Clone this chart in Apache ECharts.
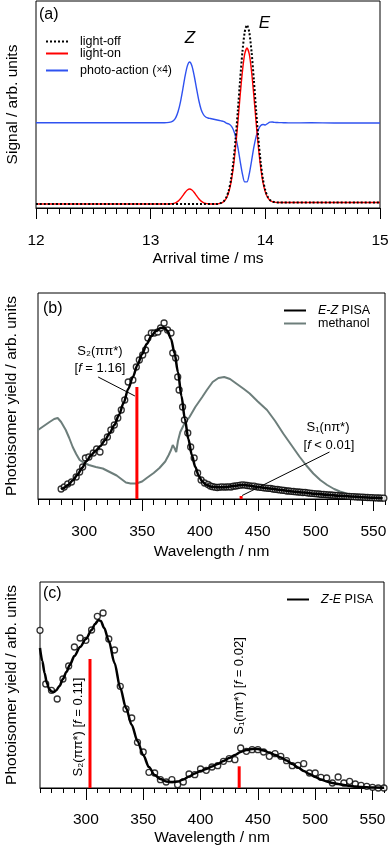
<!DOCTYPE html>
<html>
<head>
<meta charset="utf-8">
<title>PISA spectra</title>
<script src="https://cdn.jsdelivr.net/npm/echarts@6.0.0/dist/echarts.min.js"></script>
<style>
  html, body { margin: 0; padding: 0; background: #fff; }
  #chart { width: 390px; height: 849px; }
</style>
</head>
<body>
<div id="chart"></div>
<script>
// (a) arrival time distributions, signal in arb. units
const arrivalTime = [12.00, 12.50, 13.00, 13.10, 13.12, 13.14, 13.16, 13.18, 13.20, 13.22, 13.24, 13.26, 13.28, 13.30, 13.32, 13.34, 13.36, 13.38, 13.40, 13.42, 13.44, 13.46, 13.48, 13.50, 13.52, 13.54, 13.56, 13.58, 13.60, 13.62, 13.64, 13.66, 13.68, 13.70, 13.72, 13.74, 13.76, 13.78, 13.80, 13.82, 13.84, 13.86, 13.88, 13.90, 13.92, 13.94, 13.96, 13.98, 14.00, 14.02, 14.04, 14.06, 14.08, 14.10, 14.12, 14.16, 14.20, 14.40, 14.60, 14.80, 15.00];
const lightOff = [4, 4, 4, 4, 4, 4, 4, 4, 4, 4, 4, 4, 4, 4, 4, 4, 4, 4, 4, 4, 4, 4, 4, 4, 4, 4, 4, 4, 4.5, 5.3, 7, 10.6, 17.1, 28.2, 45.2, 68.4, 97.1, 128, 156, 175.8, 183, 175.8, 156, 128, 97.1, 68.4, 45.2, 28.2, 17.6, 11.4, 8, 6.5, 5.9, 5.6, 5.5, 5.5, 5.6, 5.5, 5.6, 5.5, 5.6];
const lightOn = [4, 4, 4, 4, 4, 4, 4, 4.2, 4.6, 5.4, 6.9, 9.2, 12.3, 15.5, 18, 19, 18, 15.5, 12.3, 9.2, 6.9, 5.4, 4.6, 4.2, 4, 4, 4, 4, 4.5, 5.1, 6.7, 9.8, 15.4, 25.1, 39.9, 60.2, 85.1, 112.1, 136.4, 153.8, 160, 153.8, 136.4, 112.1, 85.1, 60.2, 39.9, 25.1, 15.9, 10.6, 7.7, 6.3, 5.9, 5.6, 5.5, 5.5, 5.5, 5.6, 5.5, 5.6, 5.5];
const photoAction = [85.3, 85.2, 85.3, 85.3, 85.3, 85.4, 85.6, 86.2, 87.4, 90.6, 96.7, 106.2, 118.7, 131.8, 142.1, 146, 142, 132, 119.5, 107.5, 98.5, 93.5, 91, 90, 89.5, 89, 88.5, 88, 87.5, 87, 86.3, 84.9, 84.1, 82.4, 78.6, 71.6, 60.8, 47.2, 34.2, 26.1, 26.1, 34.2, 47.2, 60.8, 71.6, 78.6, 82.4, 83.5, 83, 84.5, 85.8, 86, 85.6, 85.5, 85.4, 85.3, 85.1, 85.2, 85, 85.1, 85];

// (b) E-Z photoisomer yield vs wavelength
const ezWavelength = [280, 282.7, 285.7, 289, 293, 296, 298.6, 301, 304, 307.8, 310.7, 313.6, 317, 320, 323, 326, 329, 332, 335, 338, 342, 345, 347.6, 350.5, 353, 355, 358, 360.6, 363.6, 366, 369, 372, 375, 376.5, 379, 380.8, 382, 385, 386.6, 389.5, 392, 395, 398, 401, 404, 407,
  409, 411, 413, 415, 417, 419, 421, 423, 425, 427, 429, 431, 433, 435, 437, 439, 441, 443, 445, 447, 449, 451, 453, 455, 457, 459, 461, 463, 465, 467, 469, 471, 473, 475, 477, 479, 481, 483, 485, 487, 489, 491, 493, 495, 497, 499, 501, 503, 505, 507, 509, 511, 513, 515, 517, 519, 521, 523, 525, 527, 529, 531, 533, 535, 537, 539, 541, 543, 545, 547, 549, 551, 553, 555, 557, 559];
const ezYield = [10, 12, 15, 17, 22, 27, 32, 41, 42, 46, 50, 47, 57, 62, 69, 74, 81, 89, 99, 117, 119, 132, 139, 144, 149, 161, 166, 166, 167, 171, 176, 169, 166, 146, 141, 122, 109, 92, 79, 66, 52, 41, 26, 19, 16, 14.5,
  13, 12.3, 11.8, 11.5, 11.8, 12.1, 11.9, 12, 12.2, 12.0, 12.8, 13, 13.4, 13.8, 14.2, 13.9, 13.5, 13.2, 12.8, 12.9, 12.2, 11.8, 11.6, 11.2, 10.9, 10.7, 10.6, 10, 9.7, 9.5, 9.1, 8.8, 8.6, 8.0, 8, 7.7, 7.5, 7.2, 7, 6.8, 6.5, 6.6, 6.1, 5.8, 5.6, 5.4, 5.2, 5, 4.6, 4.6, 4.4, 4.2, 4, 3.8, 3.6, 3.6, 3.2, 3, 2.9, 2.7, 2.6, 2.4, 2.3, 2.1, 2, 1.9, 1.8, 1.6, 1.5, 1.4, 1.3, 1.2, 1.1, 1, 0.9, 0.8];
const ezFitWavelength = [280, 282, 286, 290, 294, 298, 302, 306, 310, 314, 318, 322, 326, 330, 334, 338, 342, 346, 350, 354, 358, 362, 366, 369, 372, 375, 378, 381, 384, 387, 390, 393, 396, 399, 402, 405, 410, 415, 420, 425, 430, 435, 438, 442, 450, 460, 470, 480, 490, 500, 510, 520, 530, 540, 550, 558];
const ezFit = [9.7, 11, 14, 18.5, 24, 31, 38, 44, 48.5, 53, 59, 66, 74, 84, 96, 110, 122, 134, 145, 155, 163, 168, 171, 171.5, 168, 160, 146, 127, 103, 80, 60, 44, 32, 23, 17.5, 14.5, 12.3, 11.7, 11.8, 12.3, 13, 13.9, 14, 13.4, 12, 10.5, 9, 7.6, 6.4, 5.3, 4.3, 3.3, 2.5, 1.8, 1.2, 0.8];
const methanolWavelength = [260, 265, 270, 274, 277, 280, 284, 287, 290, 293, 296, 300, 304, 310, 316, 322, 328, 332, 336, 340, 345, 350, 354, 360, 365, 370, 373, 375, 376.5, 378, 379.5, 381, 383, 386, 391, 396, 402, 406, 411, 416, 421, 426, 432, 438, 443, 450, 458, 465, 472, 479, 486, 492, 498, 504, 510, 516, 521, 528, 535, 545, 552, 560];
const methanolAbs = [69, 73, 77, 80, 81, 77, 69, 61, 52, 45, 39, 36, 34, 32, 30.5, 27, 23.5, 20, 16.5, 15.5, 15.5, 17.5, 21, 26, 31, 37.5, 44, 49, 54, 51, 47, 58, 67, 74, 82, 92, 102, 109, 117, 121, 122, 120, 115, 110, 105.5, 97.5, 89, 78, 65.5, 54, 42.5, 33.5, 25.5, 19, 14, 10, 7.5, 5, 3, 2.5, 2.3, 2];
const ezTransitionWavelength = [345.5, 435.6];
const ezTransitionStrength = [112, 3];
const ezS2LeaderX = [312, 343.8];
const ezS2LeaderY = [122, 103];
const ezS1LeaderX = [512, 436.5];
const ezS1LeaderY = [47, 3.5];

// (c) Z-E photoisomer yield vs wavelength
const zeWavelength = [260, 265, 270, 275, 280, 285, 290, 295, 300, 305, 310, 315, 320, 325, 330, 335, 340, 345, 350, 355, 360, 365, 370, 375, 380, 385, 390, 395, 400, 405, 410, 415, 420, 425, 430, 435, 440, 445, 450, 455, 460, 465, 470, 475, 480, 485, 490, 495, 500, 505, 510, 515, 520, 525, 530, 535, 540, 545, 550, 555, 560];
const zeYield = [157.7, 104, 97.7, 89, 109, 122, 141, 150, 147.7, 158, 171.7, 175, 149, 138, 101.7, 79, 70, 45.7, 36, 15.7, 15, 8.3, 6, 8.3, 3.3, 6, 14, 13.3, 19, 17.7, 21, 22.3, 26.7, 29.3, 28.3, 40, 36.7, 38.3, 38.3, 36, 31.7, 34.3, 31.7, 27.3, 22.3, 22.7, 24.3, 15, 15, 10.7, 10, 5, 11, 5, 6.7, 4, 2.7, 1.7, 0.7, 0, 0];
const zeFitWavelength = [260, 262, 264, 266, 268, 270, 272, 274, 277, 280, 283, 286, 290, 295, 300, 305, 308, 311, 313, 316, 320, 325, 330, 335, 340, 345, 350, 355, 360, 365, 370, 375, 380, 385, 390, 395, 400, 405, 410, 415, 420, 425, 430, 435, 440, 445, 450, 455, 460, 465, 470, 475, 480, 485, 490, 495, 500, 505, 510, 515, 520, 525, 530, 535, 540, 550, 560];
const zeFit = [140, 127, 115, 105, 99, 96.5, 96, 97.5, 102, 109, 116, 123, 132, 141, 149, 158, 164, 168, 167, 160, 147, 125, 100, 80, 63, 47, 33, 21, 13, 9, 6.5, 6, 6.5, 8.5, 11.5, 14.5, 17, 19, 21.5, 24, 27, 30, 33, 36, 38, 39, 39, 37.5, 35.5, 33, 30.5, 27.5, 24, 20.5, 17, 14, 11, 8.5, 6.5, 5, 4, 3, 2.2, 1.5, 1, 0.5, 0.3];
const zeTransitionWavelength = [303.6, 433.7];
const zeTransitionStrength = [129, 21.7];

const font = "'Liberation Sans', Arial, sans-serif";
const black = '#000';
const red = '#ff0000';

function pairs(xs, ys) {
  return xs.map(function (x, i) { return [x, ys[i]]; });
}

// panel boxes in px; the extra grids only carry the 50 nm major ticks + labels
const boxA = { left: 36, top: 1, width: 344, height: 207 };
const boxB = { left: 38, top: 293, width: 347, height: 206 };
const boxC = { left: 40, top: 582, width: 344, height: 206 };
function majorBox(box) {
  const k = box.width / 300;
  return { left: box.left + 40 * k, top: box.top, width: 250 * k, height: box.height, show: false, outerBoundsMode: 'none' };
}
function panelGrid(box) {
  return Object.assign({ show: true, borderColor: black, borderWidth: 1, backgroundColor: 'transparent', outerBoundsMode: 'none' }, box);
}

const titleText = { color: black, fontFamily: font, fontSize: 15.5 };

function waveAxis(gridIndex, tickLen, nameGap) {
  return {
    gridIndex: gridIndex, type: 'value', min: 260, max: 560, interval: 10,
    axisLine: { lineStyle: { color: black, width: 1 } },
    axisTick: { length: tickLen, lineStyle: { color: black } },
    axisLabel: { show: false },
    splitLine: { show: false },
    name: 'Wavelength / nm', nameLocation: 'middle', nameGap: nameGap, nameMoveOverlap: false,
    nameTextStyle: titleText
  };
}
function majorAxis(gridIndex, margin) {
  return {
    gridIndex: gridIndex, type: 'value', min: 300, max: 550, interval: 50,
    axisLine: { show: false },
    axisTick: { length: 12, lineStyle: { color: black } },
    axisLabel: { margin: margin, color: black, fontFamily: font, fontSize: 15.5 },
    splitLine: { show: false }
  };
}
function yieldAxis(gridIndex, max, name, nameGap) {
  return {
    gridIndex: gridIndex, type: 'value', min: 0, max: max,
    axisLine: { show: false }, axisTick: { show: false }, axisLabel: { show: false }, splitLine: { show: false },
    name: name, nameLocation: 'middle', nameGap: nameGap, nameMoveOverlap: false, nameTextStyle: titleText
  };
}

const legendRich = {
  gap: { width: 7, fontFamily: font, fontSize: 12.5 },
  i: { fontFamily: font, fontSize: 12.5, fontStyle: 'italic', color: black },
  s: { fontFamily: font, fontSize: 10, color: black }
};
function legendAt(name, left, top, formatter) {
  return {
    data: [name], left: left, top: top, orient: 'vertical', padding: 0,
    itemWidth: 22, itemHeight: 14, selectedMode: false,
    itemStyle: { opacity: 0 },
    textStyle: { color: black, fontFamily: font, fontSize: 12.5, rich: legendRich },
    formatter: function (n) { return '{gap| }' + (formatter ? formatter(n) : n); }
  };
}

function note(x, y, text, size, opts) {
  opts = opts || {};
  return {
    type: 'text', x: x, y: y, rotation: opts.rotation || 0, silent: true, z: 100,
    style: {
      text: text, fill: black, fontFamily: font, fontSize: size,
      fontStyle: opts.italic ? 'italic' : 'normal',
      align: opts.align || 'center', verticalAlign: 'middle',
      rich: { i: { fill: black, fontFamily: font, fontSize: size, fontStyle: 'italic' } }
    }
  };
}

function curve(name, xAxisIndex, xs, ys, color, width, extra) {
  return Object.assign({
    name: name, type: 'line', xAxisIndex: xAxisIndex, yAxisIndex: xAxisIndex,
    data: pairs(xs, ys), symbol: 'none', silent: true,
    itemStyle: { color: color }, lineStyle: { color: color, width: width }
  }, extra || {});
}
function dots(name, xAxisIndex, xs, ys) {
  return {
    name: name, type: 'scatter', xAxisIndex: xAxisIndex, yAxisIndex: xAxisIndex,
    data: pairs(xs, ys), symbol: 'circle', symbolSize: 6, silent: true, z: 3,
    itemStyle: { color: '#fff', borderColor: black, borderWidth: 1.3 }
  };
}
function sticks(name, xAxisIndex, xs, ys) {
  return {
    name: name, type: 'bar', xAxisIndex: xAxisIndex, yAxisIndex: xAxisIndex,
    data: pairs(xs, ys), barWidth: 3, silent: true, z: 5,
    itemStyle: { color: red }
  };
}

const chart = echarts.init(document.getElementById('chart'), null, { renderer: 'canvas' });

chart.setOption({
  animation: false,
  backgroundColor: '#fff',
  grid: [panelGrid(boxA), panelGrid(boxB), panelGrid(boxC), majorBox(boxB), majorBox(boxC)],
  xAxis: [
    {
      gridIndex: 0, type: 'value', min: 12, max: 15, interval: 1,
      axisLine: { lineStyle: { color: black, width: 1 } },
      axisTick: { length: 11, lineStyle: { color: black } },
      minorTick: { show: true, splitNumber: 10, length: 6, lineStyle: { color: black } },
      axisLabel: { margin: 25, color: black, fontFamily: font, fontSize: 15.5 },
      splitLine: { show: false }, minorSplitLine: { show: false },
      name: 'Arrival time / ms', nameLocation: 'middle', nameGap: 43, nameMoveOverlap: false,
      nameTextStyle: titleText
    },
    waveAxis(1, 6, 45),
    waveAxis(2, 5, 42),
    majorAxis(3, 25),
    majorAxis(4, 24)
  ],
  yAxis: [
    yieldAxis(0, 207, 'Signal / arb. units', 15),
    yieldAxis(1, 206, 'Photoisomer yield / arb. units', 18),
    yieldAxis(2, 206, 'Photoisomer yield / arb. units', 20),
    { gridIndex: 3, type: 'value', min: 0, max: 206, show: false },
    { gridIndex: 4, type: 'value', min: 0, max: 206, show: false }
  ],
  legend: [
    legendAt('light-off', 45, 35),
    legendAt('light-on', 45, 47),
    legendAt('photo-action (×4)', 45, 64, function (name) { return name.replace('×4', '{s|×4}'); }),
    legendAt('E-Z PISA', 283, 304, function () { return '{i|E-Z} PISA'; }),
    legendAt('methanol', 283, 317),
    legendAt('Z-E PISA', 286, 593, function () { return '{i|Z-E} PISA'; })
  ],
  series: [
    curve('photo-action (×4)', 0, arrivalTime, photoAction, '#2f52f0', 1.4, { smooth: 0.25, z: 2 }),
    curve('light-on', 0, arrivalTime, lightOn, red, 1.4, { smooth: 0.25, z: 3 }),
    curve('light-off', 0, arrivalTime, lightOff, black, 2, { smooth: 0.25, z: 4, lineStyle: { color: black, width: 2, type: [2, 2] } }),

    curve('methanol', 1, methanolWavelength, methanolAbs, '#6d7e7b', 2, { z: 2 }),
    dots('E-Z PISA data', 1, ezWavelength, ezYield),
    curve('E-Z PISA', 1, ezFitWavelength, ezFit, black, 2.5, { smooth: 0.3, smoothMonotone: 'x', z: 4 }),
    sticks('E-Z transitions', 1, ezTransitionWavelength, ezTransitionStrength),
    curve('S2 leader b', 1, ezS2LeaderX, ezS2LeaderY, black, 1, { z: 6 }),
    curve('S1 leader b', 1, ezS1LeaderX, ezS1LeaderY, black, 1, { z: 6 }),

    dots('Z-E PISA data', 2, zeWavelength, zeYield),
    curve('Z-E PISA', 2, zeFitWavelength, zeFit, black, 2.5, { smooth: 0.3, smoothMonotone: 'x', z: 4 }),
    sticks('Z-E transitions', 2, zeTransitionWavelength, zeTransitionStrength)
  ],
  graphic: [
    note(39, 15, '(a)', 16, { align: 'left' }),
    note(190, 38, 'Z', 17, { italic: true }),
    note(264.5, 23, 'E', 17, { italic: true }),

    note(43, 309, '(b)', 16, { align: 'left' }),
    note(100, 351, 'S₂(ππ*)', 13),
    note(100, 368, '[{i|f} = 1.16]', 13),
    note(328, 427, 'S₁(nπ*)', 13),
    note(329, 445, '[{i|f} < 0.01]', 13),

    note(43, 594, '(c)', 16, { align: 'left' }),
    note(78.5, 727, 'S₂(ππ*) [{i|f} = 0.11]', 13, { rotation: Math.PI / 2 }),
    note(239.3, 686, 'S₁(nπ*) [{i|f} = 0.02]', 13, { rotation: Math.PI / 2 })
  ]
});
</script>
</body>
</html>
